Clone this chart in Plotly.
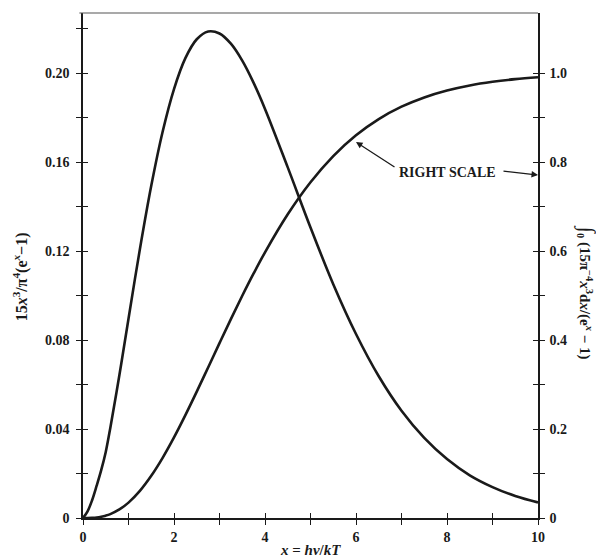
import plotly.graph_objects as go

# x = h nu / kT
x_vals = [0, 0.1, 0.2, 0.3, 0.4, 0.5, 0.6, 0.8, 1.0, 1.25, 1.5, 1.75, 2.0, 2.25, 2.5, 2.75,
          3.0, 3.25, 3.5, 3.75, 4.0, 4.5, 5.0, 5.5, 6.0, 6.5, 7.0, 7.5, 8.0, 8.5, 9.0, 9.5, 10.0]
# left scale: 15x^3/pi^4(e^x-1)
planck_vals = [0, 0.0030, 0.0080, 0.0145, 0.0215, 0.0297, 0.0405, 0.0643, 0.0896, 0.1208,
               0.1493, 0.1736, 0.1928, 0.2067, 0.2152, 0.2187, 0.2178, 0.2132, 0.2056,
               0.1956, 0.1839, 0.1576, 0.1306, 0.1051, 0.0827, 0.0637, 0.0482, 0.0360,
               0.0265, 0.0192, 0.0139, 0.0099, 0.0070]
# right scale: cumulative integral
cumul_vals = [0, 0.0000, 0.0004, 0.0012, 0.0028, 0.0053, 0.0088, 0.0192, 0.0346, 0.0610,
              0.0948, 0.1352, 0.1811, 0.2312, 0.2840, 0.3384, 0.3930, 0.4470, 0.4994,
              0.5496, 0.5970, 0.6825, 0.7545, 0.8134, 0.8602, 0.8966, 0.9244, 0.9453,
              0.9608, 0.9722, 0.9804, 0.9863, 0.9905]

x_ticks = [0, 2, 4, 6, 8, 10]
x_minor = [1, 3, 5, 7, 9]
left_ticks = [0, 0.04, 0.08, 0.12, 0.16, 0.20]
left_text = ["0", "0.04", "0.08", "0.12", "0.16", "0.20"]
left_minor = [0.02, 0.06, 0.10, 0.14, 0.18, 0.22]
right_ticks = [0, 0.2, 0.4, 0.6, 0.8, 1.0]
right_text = ["0", "0.2", "0.4", "0.6", "0.8", "1.0"]
right_minor = [0.1, 0.3, 0.5, 0.7, 0.9]

LEFT_MAX = 0.227
RIGHT_MAX = LEFT_MAX * 5

INK = "#1a1a1a"
FONT = "Liberation Serif"
tickfont = dict(family=FONT, size=14, color=INK, weight="bold")

fig = go.Figure()
fig.add_trace(go.Scatter(x=x_vals, y=planck_vals, mode="lines",
                         line=dict(color=INK, width=2.6, shape="spline", smoothing=1.0),
                         hoverinfo="skip", showlegend=False))
fig.add_trace(go.Scatter(x=x_vals, y=cumul_vals, mode="lines", yaxis="y2",
                         line=dict(color=INK, width=2.6, shape="spline", smoothing=1.0),
                         hoverinfo="skip", showlegend=False))
# invisible traces to host the inner-tick overlay axes
fig.add_trace(go.Scatter(x=x_vals, y=planck_vals, mode="lines", xaxis="x3", yaxis="y3",
                         opacity=0, line=dict(width=0), hoverinfo="skip", showlegend=False))
fig.add_trace(go.Scatter(x=x_vals, y=cumul_vals, mode="lines", xaxis="x3", yaxis="y4",
                         opacity=0, line=dict(width=0), hoverinfo="skip", showlegend=False))

common_line = dict(showline=True, linecolor=INK, linewidth=1.5, showgrid=False, zeroline=False)
tk = dict(ticklen=5, tickwidth=1.3, tickcolor=INK)

fig.update_layout(
    # page body has an 8px margin, so the figure is 8px smaller each way
    width=596, height=549,
    margin=dict(l=75, r=66, t=5, b=39),
    paper_bgcolor="white", plot_bgcolor="white",
    xaxis=dict(range=[0, 10], tickvals=x_ticks, ticktext=[str(v) for v in x_ticks],
               ticks="outside", **tk,
               minor=dict(tickvals=x_minor, ticks="outside", **tk),
               tickfont=tickfont, **common_line),
    xaxis3=dict(range=[0, 10], overlaying="x", anchor="y", tickvals=x_ticks + x_minor,
                ticks="inside", **tk,
                showticklabels=False, showline=False, showgrid=False, zeroline=False),
    yaxis=dict(range=[0, LEFT_MAX], tickvals=left_ticks, ticktext=left_text,
               ticks="outside", **tk,
               minor=dict(tickvals=left_minor, ticks="outside", **tk),
               tickfont=tickfont, ticklabelstandoff=4, **common_line),
    yaxis3=dict(range=[0, LEFT_MAX], overlaying="y", anchor="x", side="left",
                tickvals=left_ticks + left_minor, ticks="inside", **tk,
                showticklabels=False, showline=False, showgrid=False, zeroline=False),
    yaxis2=dict(range=[0, RIGHT_MAX], overlaying="y", side="right", anchor="x",
                tickvals=right_ticks, ticktext=right_text,
                ticks="outside", **tk,
                minor=dict(tickvals=right_minor, ticks="outside", **tk),
                tickfont=tickfont, ticklabelstandoff=2, **common_line),
    yaxis4=dict(range=[0, RIGHT_MAX], overlaying="y", side="right", anchor="x",
                tickvals=right_ticks + right_minor, ticks="inside", **tk,
                showticklabels=False, showline=False, showgrid=False, zeroline=False),
    shapes=[dict(type="line", xref="paper", yref="paper", x0=-0.008, x1=1, y0=1, y1=1,
                 line=dict(color="#555555", width=1.2))],
)

title_font = dict(family=FONT, size=16, color=INK, weight="bold")
fig.add_annotation(xref="paper", yref="paper", x=-0.138, y=0.477, textangle=-90,
                   text="15<i>x</i><sup>3</sup>/π<sup>4</sup>(e<sup><i>x</i></sup>−1)",
                   showarrow=False, font=title_font, xanchor="center", yanchor="middle")
fig.add_annotation(xref="paper", yref="paper", x=1.108, y=0.4475, textangle=90,
                   text="<span style='font-size:22px'>∫</span><sub>0</sub> (15π<sup>−4</sup><i>x</i><sup>3</sup>d<i>x</i>/(e<sup><i>x</i></sup> − 1)",
                   showarrow=False, font=dict(family=FONT, size=15, color=INK, weight="bold"),
                   xanchor="center", yanchor="middle")
fig.add_annotation(xref="paper", yref="paper", x=0.501, y=-0.064,
                   text="<i>x</i> = <i>hν</i>/<i>kT</i>",
                   showarrow=False, font=dict(family=FONT, size=15, color=INK, weight="bold"),
                   xanchor="center", yanchor="middle")
fig.add_annotation(xref="paper", yref="paper", x=0.802, y=0.685, text="RIGHT SCALE",
                   showarrow=False, font=dict(family=FONT, size=14, color=INK, weight="bold"),
                   xanchor="center", yanchor="middle")
fig.add_annotation(xref="x", yref="y2", x=6.0, y=0.845, text="", showarrow=True,
                   ax=40, ay=26, arrowhead=2, arrowsize=1, arrowwidth=1.3, arrowcolor=INK)
fig.add_annotation(xref="x", yref="y2", x=10, y=0.771, text="", showarrow=True,
                   ax=-36, ay=-4, arrowhead=2, arrowsize=1, arrowwidth=1.3, arrowcolor=INK)

fig.write_html("out.html")
